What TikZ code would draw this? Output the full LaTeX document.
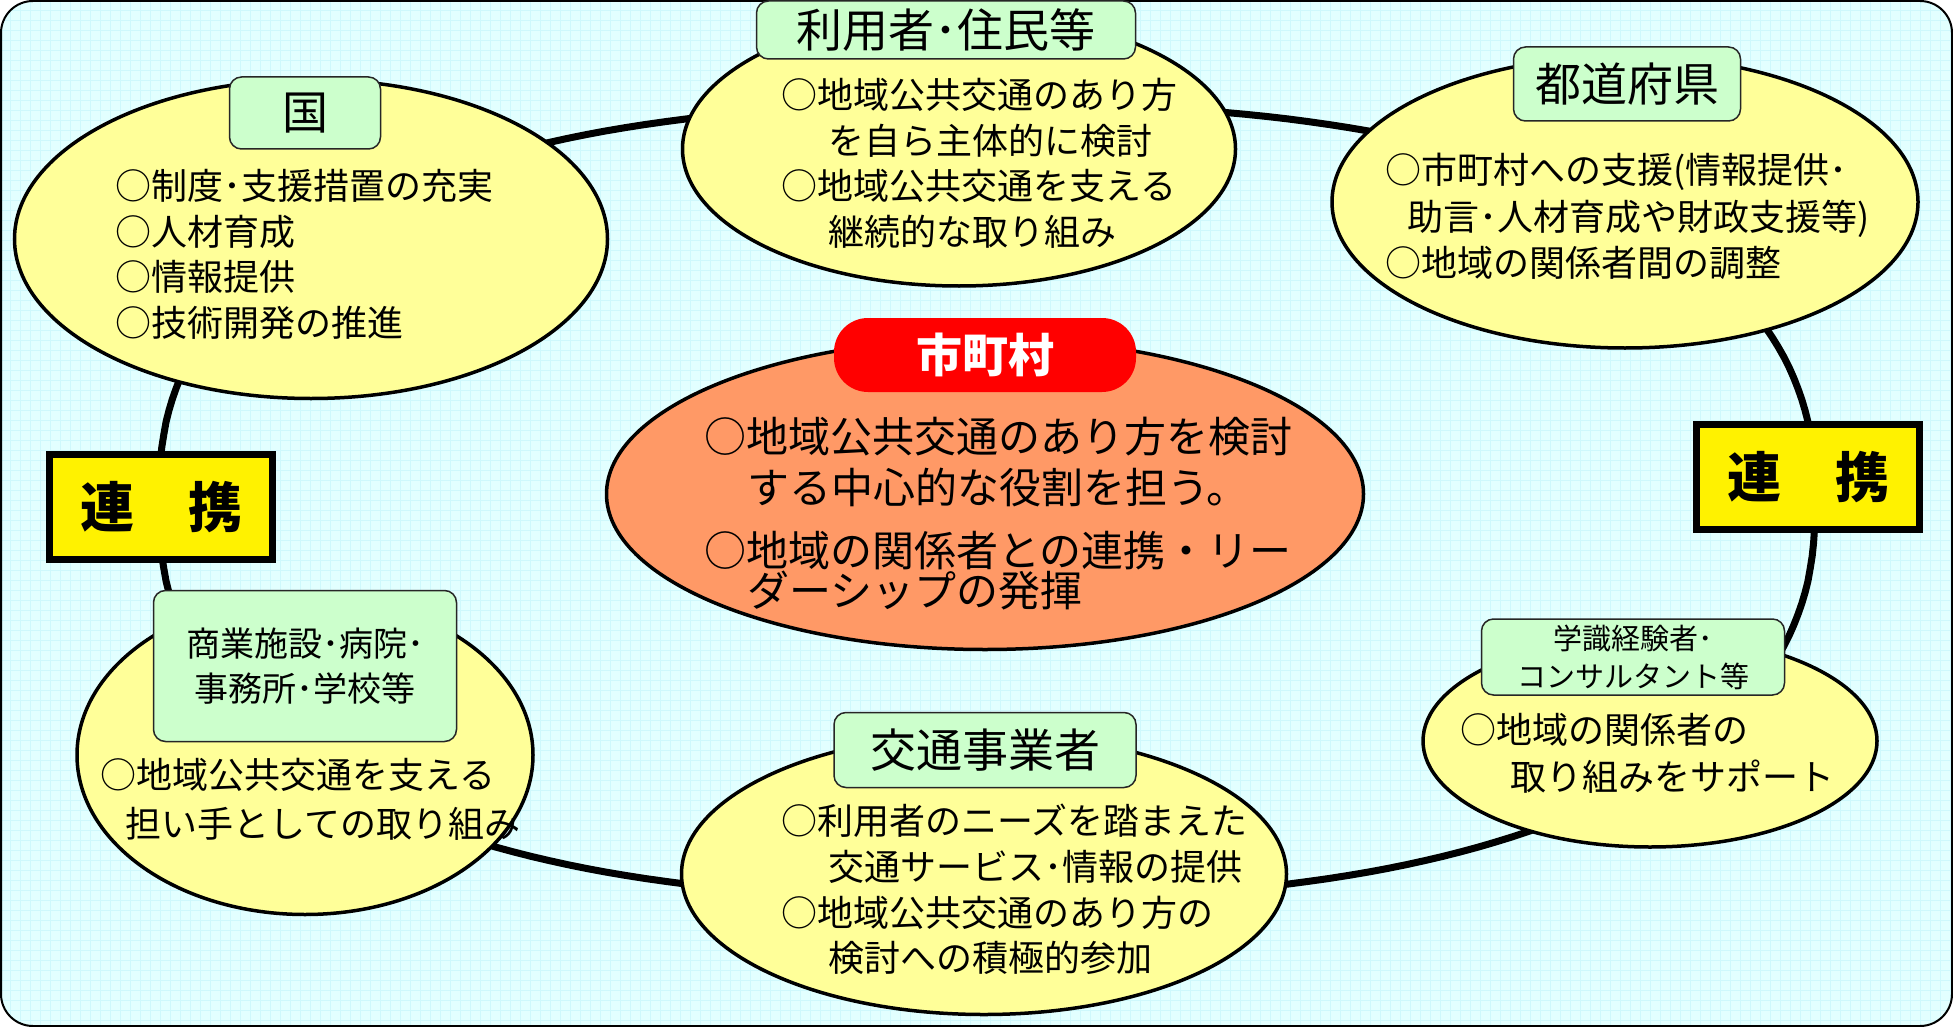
\documentclass[tikz,border=0pt]{standalone}
\usepackage{fontspec}
\usetikzlibrary{shapes.geometric}
\newfontfamily\jp{Noto Sans CJK JP}
\definecolor{bgc}{RGB}{226,255,255}
\definecolor{gridc}{RGB}{206,248,252}
\definecolor{ovy}{RGB}{255,255,153}
\definecolor{tagg}{RGB}{204,255,204}
\definecolor{core}{RGB}{255,153,102}
\definecolor{tagred}{RGB}{255,0,0}
\begin{document}
\begin{tikzpicture}[x=1pt,y=-1pt,
  oval/.style={ellipse, draw, line width=3.5pt, fill=ovy, inner sep=0pt},
  tagbox/.style={rounded corners=12pt, draw=black!85, line width=1.5pt, fill=tagg, inner sep=0pt, align=center, font=\jp\fontsize{46}{50}\selectfont},
  body/.style={align=left, inner sep=0pt, anchor=north west, font=\jp\fontsize{36}{45.7}\selectfont},
  linkbox/.style={draw, line width=7pt, fill=yellow, inner sep=0pt, minimum width=223pt, minimum height=105pt, font=\jp\bfseries\fontsize{54}{60}\selectfont}
]
\useasboundingbox (0,0) rectangle (1953,1027);
\fill[bgc, rounded corners=32pt] (1,1) rectangle (1952,1026);
\begin{scope}
\clip[rounded corners=32pt] (1,1) rectangle (1952,1026);
\draw[gridc, line width=0.7pt, step=10pt] (0,0) grid (1960,1030);
\end{scope}
\draw[line width=2pt, rounded corners=32pt] (1,1) rectangle (1952,1026);
% ring (rounded super-ellipse behind all nodes)
\draw[line width=7pt, line join=round] plot[domain=0.75:359.25, samples=240, variable=\t]
  ({987+828*sign(cos(\t))*pow(abs(cos(\t)),0.8333)},{501.5+397.5*sign(sin(\t))*pow(abs(sin(\t)),0.8333)}) -- cycle;

% ovals
\node[oval, minimum width=593pt, minimum height=319pt] (kuni) at (311,239) {};
\node[oval, minimum width=553pt, minimum height=274pt] (jumin) at (959,149) {};
\node[oval, minimum width=586pt, minimum height=292pt] (ken) at (1625,202) {};
\node[oval, fill=core, minimum width=757pt, minimum height=311pt] (shi) at (985,494) {};
\node[oval, minimum width=454pt, minimum height=212pt] (gaku) at (1650,741) {};
\node[oval, minimum width=605pt, minimum height=281pt] (kotsu) at (984,874) {};
\node[oval, minimum width=456pt, minimum height=319pt] (shogyo) at (305,755) {};

% tags
\node[tagbox, minimum width=151pt, minimum height=72pt] (kunitag) at (305,113) {国};
\node[tagbox, minimum width=379pt, minimum height=58pt] (jumintag) at (946,30) {利用者･住民等};
\node[tagbox, minimum width=227pt, minimum height=74pt] (kentag) at (1627,84) {都道府県};
\node[rounded corners=34pt, fill=tagred, inner sep=0pt, minimum width=302pt, minimum height=74pt, text=white, font=\jp\bfseries\fontsize{46}{50}\selectfont] (shitag) at (985,355) {市町村};
\node[tagbox, minimum width=303pt, minimum height=76pt, font=\jp\fontsize{29}{38}\selectfont] (gakutag) at (1633,657) {学識経験者･\\コンサルタント等};
\node[tagbox, minimum width=302pt, minimum height=75pt] (kotsutag) at (985,750) {交通事業者};
\node[tagbox, minimum width=303pt, minimum height=151pt, font=\jp\fontsize{34}{45}\selectfont] (shogyotag) at (305,666) {商業施設･病院･\\事務所･学校等};

% bodies
\node[body] (kunitxt) at (115,169) {○制度･支援措置の充実\\○人材育成\\○情報提供\\○技術開発の推進};
\node[body] (jumintxt) at (781,78) {○地域公共交通のあり方\\\hspace*{47pt}を自ら主体的に検討\\○地域公共交通を支える\\\hspace*{47pt}継続的な取り組み};
\node[body, font=\jp\fontsize{36}{46.5}\selectfont] (kentxt) at (1385,153) {○市町村への支援(情報提供･\\\hspace*{22pt}助言･人材育成や財政支援等)\\○地域の関係者間の調整};
\node[body, font=\jp\fontsize{42}{51}\selectfont] (shitxt) at (704,417) {○地域公共交通のあり方を検討\\\hspace*{43pt}する中心的な役割を担う。\\[12pt]○地域の関係者との連携・リー\\[-11pt]\hspace*{43pt}ダーシップの発揮};
\node[body, font=\jp\fontsize{36}{47}\selectfont] (gakutxt) at (1460,713) {○地域の関係者の\\\hspace*{50pt}取り組みをサポート};
\node[body] (kotsutxt) at (781,804) {○利用者のニーズを踏まえた\\\hspace*{47pt}交通サービス･情報の提供\\○地域公共交通のあり方の\\\hspace*{47pt}検討への積極的参加};
\node[body, font=\jp\fontsize{36}{49}\selectfont] (shogyotxt) at (100,758) {○地域公共交通を支える\\\hspace*{25pt}担い手としての取り組み};

% link boxes
\node[linkbox] (renkeiL) at (161,507) {連　携};
\node[linkbox] (renkeiR) at (1808,477) {連　携};
\end{tikzpicture}
\end{document}
